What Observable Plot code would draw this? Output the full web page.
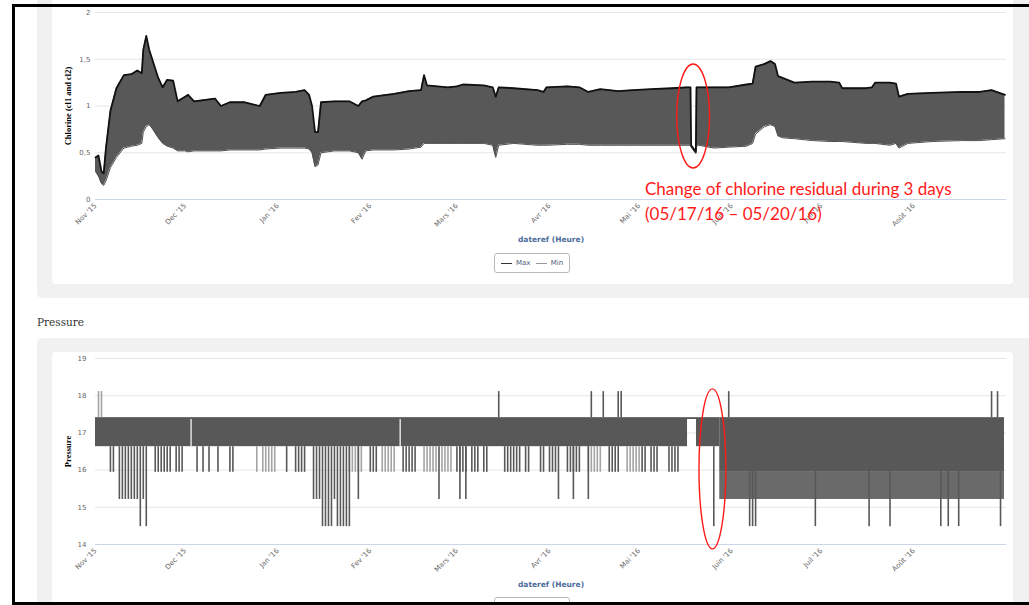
<!DOCTYPE html>
<html>
<head>
<meta charset="utf-8">
<script src="https://cdn.jsdelivr.net/npm/d3@7"></script>
<script src="https://cdn.jsdelivr.net/npm/@observablehq/plot@0.6"></script>
<style>
html,body{margin:0;padding:0;background:#fff;}
#page{position:relative;width:1029px;height:605px;overflow:hidden;background:#fff;font-family:"DejaVu Sans",sans-serif;}
.panel{position:absolute;background:#f1f1f1;border-radius:5px;}
.card{position:absolute;background:#fff;border-radius:4px;}
.chart{position:absolute;left:0;}
.legend{position:absolute;border:1px solid #b9b9b9;border-radius:3px;background:#fff;font:7px "DejaVu Sans",sans-serif;color:#4d5b78;display:flex;align-items:center;justify-content:center;gap:3px;box-sizing:border-box;}
.sw{display:inline-block;width:11px;height:0;border-top:1.5px solid;margin-right:1px;}
.note{position:absolute;left:645px;top:176px;font:17px Lato,"Open Sans",sans-serif;line-height:25px;color:#ff1a1a;white-space:nowrap;}
#heading{position:absolute;left:37px;top:316px;font:10.5px "DejaVu Serif",serif;color:#333;}
#frame{position:absolute;left:12px;top:4px;width:1100px;height:601px;border:3px solid #000;border-right:none;box-sizing:border-box;z-index:10;}
</style>
</head>
<body>
<div id="page">
  <div class="panel" style="left:37px;top:-10px;width:1000px;height:308px"></div>
  <div class="card" style="left:52px;top:-10px;width:961px;height:294px"></div>
  <div class="panel" style="left:37px;top:338px;width:1000px;height:300px"></div>
  <div class="card" style="left:52px;top:352px;width:961px;height:300px"></div>
  <div id="heading">Pressure</div>
  <div id="chl" class="chart" style="top:0"></div>
  <div id="pres" class="chart" style="top:340px"></div>
  <div class="legend" style="left:494px;top:253px;width:76px;height:20px"><span class="sw" style="border-color:#333"></span>Max&nbsp;<span class="sw" style="border-color:#999"></span>Min</div>
  <div class="legend" style="left:494px;top:597px;width:76px;height:20px"></div>
  <div class="note">Change of chlorine residual during 3 days<br>(05/17/16 – 05/20/16)</div>
  <div id="frame"></div>
</div>
<script>
// ---------- shared x axis ----------
const xStart = "2015-11-01";
const xEnd = "2016-09-01";
const monthTicks = ["2015-11-01","2015-12-01","2016-01-01","2016-02-01","2016-03-01","2016-04-01","2016-05-01","2016-06-01","2016-07-01","2016-08-01"];
const monthLabels = ["Nov '15","Dec '15","Jan '16","Fev '16","Mars '16","Avr '16","Mai '16","Juin '16","Juil '16","Août '16"];
const xTitle = "dateref (Heure)";

// ---------- chlorine (envelope of the daily Max / Min cycles) ----------
const chlTitle = "Chlorine (cl1 and cl2)";
const chlYTicks = [0, 0.5, 1, 1.5, 2];
const chlYLabels = ["0", "0,5", "1", "1,5", "2"];
const chlDates = [
  "2015-11-01","2015-11-02","2015-11-03","2015-11-03T18:00Z","2015-11-04T12:00Z","2015-11-06","2015-11-08","2015-11-10T12:00Z","2015-11-13","2015-11-15",
  "2015-11-16T12:00Z","2015-11-17","2015-11-18","2015-11-19","2015-11-20","2015-11-22","2015-11-23T12:00Z","2015-11-25","2015-11-27","2015-11-28T12:00Z",
  "2015-12-01","2015-12-02","2015-12-04","2015-12-11","2015-12-13","2015-12-16","2015-12-21","2015-12-26","2015-12-28",
  "2016-01-02","2016-01-07","2016-01-10","2016-01-11T12:00Z","2016-01-12T12:00Z","2016-01-13T12:00Z","2016-01-14T12:00Z","2016-01-15T12:00Z","2016-01-20","2016-01-25","2016-01-28","2016-01-29T06:00Z","2016-01-30T12:00Z",
  "2016-02-02","2016-02-09","2016-02-14","2016-02-18","2016-02-19","2016-02-20","2016-02-27",
  "2016-03-01","2016-03-03","2016-03-10","2016-03-13","2016-03-14","2016-03-15","2016-03-20","2016-03-28","2016-03-30","2016-03-31",
  "2016-04-07","2016-04-11","2016-04-14","2016-04-18","2016-04-24","2016-04-29",
  "2016-05-05","2016-05-12","2016-05-17","2016-05-18T05:00Z","2016-05-18T10:00Z","2016-05-20","2016-05-20T05:00Z","2016-05-21","2016-05-26","2016-05-31",
  "2016-06-06","2016-06-08","2016-06-09","2016-06-12","2016-06-14","2016-06-15T12:00Z","2016-06-16T12:00Z","2016-06-18","2016-06-22","2016-06-28",
  "2016-07-04","2016-07-07","2016-07-08","2016-07-16","2016-07-18","2016-07-19","2016-07-24","2016-07-26","2016-07-27","2016-07-30",
  "2016-08-07","2016-08-17","2016-08-23","2016-08-27","2016-08-31T12:00Z"
];
const chlMax = [
  0.45,0.47,0.30,0.28,0.55,0.95,1.19,1.33,1.34,1.38,
  1.35,1.60,1.75,1.60,1.50,1.30,1.20,1.28,1.27,1.05,
  1.10,1.12,1.05,1.08,1.00,1.04,1.04,1.00,1.12,
  1.14,1.15,1.17,1.12,1.00,0.72,0.72,1.04,1.05,1.05,1.00,1.05,1.06,
  1.10,1.13,1.16,1.17,1.33,1.22,1.20,
  1.21,1.23,1.22,1.20,1.10,1.20,1.19,1.17,1.15,1.20,
  1.21,1.20,1.15,1.18,1.16,1.17,
  1.18,1.19,1.20,1.20,0.58,0.51,1.20,1.20,1.20,1.20,
  1.23,1.24,1.42,1.45,1.48,1.45,1.32,1.30,1.25,1.26,
  1.26,1.25,1.19,1.19,1.20,1.25,1.25,1.24,1.10,1.13,
  1.14,1.15,1.15,1.17,1.12
];
const chlMin = [
  0.30,0.25,0.17,0.15,0.20,0.34,0.45,0.55,0.57,0.58,
  0.60,0.72,0.78,0.80,0.76,0.66,0.60,0.57,0.55,0.52,
  0.52,0.51,0.52,0.52,0.52,0.53,0.53,0.53,0.54,
  0.55,0.55,0.55,0.54,0.50,0.35,0.37,0.50,0.52,0.52,0.50,0.43,0.52,
  0.53,0.53,0.54,0.56,0.60,0.60,0.60,
  0.60,0.60,0.60,0.58,0.45,0.58,0.60,0.58,0.58,0.58,
  0.59,0.59,0.58,0.58,0.58,0.58,
  0.58,0.58,0.58,0.58,0.56,0.49,0.57,0.58,0.55,0.56,
  0.57,0.60,0.70,0.78,0.80,0.78,0.68,0.66,0.65,0.63,
  0.62,0.62,0.62,0.60,0.60,0.60,0.58,0.60,0.55,0.60,
  0.62,0.63,0.63,0.64,0.65
];

// ---------- pressure ----------
const presTitle = "Pressure";
const presYTicks = [14, 15, 16, 17, 18, 19];
const presLevels = {l144: 14.48, l152: 15.21, l159: 15.94, bandLow: 16.63, bandHigh: 17.41, l181: 18.11};
// continuous bands of the dense hourly signal
const bandStart = ["2015-11-01","2016-05-17T05:00Z","2016-05-20T05:00Z","2016-05-28","2016-05-28"];
const bandEnd   = ["2016-05-17T05:00Z","2016-05-20T05:00Z","2016-05-28","2016-08-31T08:00Z","2016-08-31T08:00Z"];
const bandLow   = [16.63, 17.36, 16.63, 15.94, 15.21];
const bandHigh  = [17.41, 17.41, 17.41, 17.41, 15.94];
const bandTone  = ["dark","dark","dark","dark","mid"];
// drops to ~15.9
const drop159Dark = [
  "2015-11-06","2015-11-07","2015-11-21","2015-11-22","2015-11-23","2015-11-24","2015-11-25","2015-11-26","2015-11-28","2015-11-29","2015-11-30",
  "2015-12-05","2015-12-07","2015-12-09","2015-12-12","2015-12-16","2015-12-17",
  "2016-01-04","2016-01-07","2016-01-08","2016-01-09","2016-01-10",
  "2016-02-01","2016-02-02","2016-02-03","2016-02-12","2016-02-13","2016-02-14","2016-02-15","2016-02-16",
  "2016-03-01","2016-03-02","2016-03-03","2016-03-04","2016-03-06","2016-03-07","2016-03-08","2016-03-10","2016-03-11",
  "2016-03-17","2016-03-18","2016-03-19","2016-03-20","2016-03-21","2016-03-22","2016-03-24","2016-03-25",
  "2016-03-29","2016-03-30","2016-04-01","2016-04-02","2016-04-03",
  "2016-04-07","2016-04-08","2016-04-09","2016-04-10","2016-04-11",
  "2016-04-21","2016-04-22","2016-04-23","2016-04-24",
  "2016-05-02","2016-05-03","2016-05-05","2016-05-06","2016-05-07",
  "2016-05-11","2016-05-12","2016-05-13","2016-05-14"
];
const drop159Light = [
  "2015-12-25","2015-12-27","2015-12-28","2015-12-29","2015-12-30","2015-12-31",
  "2016-01-25","2016-01-26","2016-01-27","2016-01-28","2016-01-29",
  "2016-02-05","2016-02-06","2016-02-07","2016-02-08","2016-02-09",
  "2016-02-19","2016-02-20","2016-02-21","2016-02-22","2016-02-23","2016-02-25","2016-02-26","2016-02-27","2016-02-28",
  "2016-04-14","2016-04-15","2016-04-16","2016-04-17","2016-04-18",
  "2016-04-27","2016-04-28","2016-04-29","2016-04-30","2016-05-01"
];
// drops to ~15.2
const drop152 = [
  "2015-11-09","2015-11-10","2015-11-11","2015-11-12","2015-11-13","2015-11-14","2015-11-15","2015-11-17",
  "2016-01-13","2016-01-14","2016-01-15","2016-01-20","2016-01-28",
  "2016-02-24","2016-03-02","2016-03-04","2016-04-04","2016-04-09","2016-04-14"
];
// drops to ~14.5
const drop145 = [
  "2015-11-16","2015-11-18",
  "2016-01-16","2016-01-17","2016-01-18","2016-01-19","2016-01-21","2016-01-22","2016-01-23","2016-01-24","2016-01-25",
  "2016-05-26","2016-06-07","2016-06-08","2016-06-09","2016-06-29","2016-07-17","2016-07-24",
  "2016-08-10","2016-08-12T12:00Z","2016-08-16","2016-08-30"
];
// rises to ~18.1
const rise181Light = ["2015-11-02","2015-11-03"];
const rise181Dark = ["2016-03-15","2016-04-15","2016-04-19","2016-04-24","2016-04-25","2016-05-31","2016-08-27","2016-08-29"];
// visible holes in the band
const presGaps = ["2015-12-03","2016-02-11"];

// ---------- annotations ----------
const chlEllipse = {date: "2016-05-19T06:00Z", value: 0.888, rxDays: 5.5, ryValue: 0.556};
const presEllipse = {date: "2016-05-25T17:00Z", value: 16.02, rxDays: 4.5, ryValue: 2.15};

// ---------- helpers ----------
const parse = s => new Date(s.length === 10 ? s + "T00:00:00Z" : s);
const toneColor = {dark: "#585858", mid: "#6a6a6a", light: "#a4a4a4"};
const xDomain = [parse(xStart), parse(xEnd)];
const xTicks = monthTicks.map(parse);
const monthLabel = d => monthLabels[xTicks.findIndex(t => +t === +d)];

function ellipseMark(a) {
  return function(...args) {
    const s = args.find(v => v && typeof v.x === "function" && typeof v.y === "function");
    const c = parse(a.date);
    const cx = s.x(c), cy = s.y(a.value);
    const rx = Math.abs(s.x(new Date(+c + a.rxDays * 864e5)) - cx);
    const ry = Math.abs(s.y(a.value - a.ryValue) - cy);
    const el = document.createElementNS("http://www.w3.org/2000/svg", "ellipse");
    el.setAttribute("cx", cx); el.setAttribute("cy", cy);
    el.setAttribute("rx", rx); el.setAttribute("ry", ry);
    el.setAttribute("fill", "none"); el.setAttribute("stroke", "#ff1a1a"); el.setAttribute("stroke-width", 1.4);
    return el;
  };
}

const baseStyle = {background: "transparent", color: "#666", fontSize: "7px", fontFamily: "DejaVu Sans, sans-serif", overflow: "visible"};
const xOpts = {type: "utc", domain: xDomain, ticks: xTicks, tickFormat: monthLabel, tickRotate: -45, tickSize: 0, tickPadding: 5, label: null};

// ---------- chlorine chart ----------
const chl = chlDates.map((d, i) => ({date: parse(d), max: chlMax[i], min: chlMin[i]}));
const chlChart = Plot.plot({
  width: 1029, height: 250,
  marginLeft: 95, marginRight: 23, marginTop: 12, marginBottom: 51,
  style: baseStyle,
  x: xOpts,
  y: {domain: [0, 2], ticks: chlYTicks, tickFormat: d => chlYLabels[chlYTicks.indexOf(d)], tickSize: 0, tickPadding: 5, label: null},
  marks: [
    Plot.ruleY(chlYTicks.slice(1), {stroke: "#e6e6e6"}),
    Plot.ruleY([0], {stroke: "#ccd6eb"}),
    Plot.areaY(chl, {x: "date", y1: "min", y2: "max", fill: "#585858"}),
    Plot.line(chl, {x: "date", y: "min", stroke: "#4e4e4e", strokeWidth: 1}),
    Plot.line(chl, {x: "date", y: "max", stroke: "#111", strokeWidth: 1.8}),
    Plot.text([chlTitle], {frameAnchor: "left", dx: -27, rotate: -90, textAnchor: "middle", fontSize: 8.5, fontWeight: "bold", fontFamily: "Liberation Serif, serif", fill: "#000"}),
    Plot.text([xTitle], {frameAnchor: "bottom", dy: 40, lineAnchor: "middle", fontSize: 7.5, fontWeight: "bold", fill: "#4d6d9a"}),
    ellipseMark(chlEllipse)
  ]
});
document.getElementById("chl").append(chlChart);

// ---------- pressure chart ----------
const bands = bandStart.map((d, i) => ({x1: parse(d), x2: parse(bandEnd[i]), y1: bandLow[i], y2: bandHigh[i], tone: bandTone[i]}));
const spikes = [
  ...drop159Light.map(d => ({date: parse(d), from: presLevels.bandLow, to: presLevels.l159, tone: "light"})),
  ...drop159Dark.map(d => ({date: parse(d), from: presLevels.bandLow, to: presLevels.l159, tone: "dark"})),
  ...drop152.map(d => ({date: parse(d), from: presLevels.bandLow, to: presLevels.l152, tone: "dark"})),
  ...drop145.map(d => ({date: parse(d), from: presLevels.bandLow, to: presLevels.l144, tone: "dark"})),
  ...rise181Light.map(d => ({date: parse(d), from: presLevels.bandHigh, to: presLevels.l181, tone: "light"})),
  ...rise181Dark.map(d => ({date: parse(d), from: presLevels.bandHigh, to: presLevels.l181, tone: "dark"}))
];
const presChart = Plot.plot({
  width: 1029, height: 265,
  marginLeft: 95, marginRight: 23, marginTop: 18, marginBottom: 61,
  style: baseStyle,
  x: xOpts,
  y: {domain: [14, 19], ticks: presYTicks, tickFormat: d => String(d), tickSize: 0, tickPadding: 9, label: null},
  marks: [
    Plot.ruleY(presYTicks.slice(1), {stroke: "#e6e6e6"}),
    Plot.ruleY([14], {stroke: "#ccd6eb"}),
    Plot.rect(bands, {x1: "x1", x2: "x2", y1: "y1", y2: "y2", fill: d => toneColor[d.tone]}),
    Plot.ruleX(presGaps.map(parse), {y1: presLevels.bandLow, y2: presLevels.bandHigh - 0.05, stroke: "#fff", strokeWidth: 1.2}),
    Plot.ruleX(spikes, {x: "date", y1: "from", y2: "to", stroke: d => toneColor[d.tone], strokeWidth: 1.6}),
    Plot.text([presTitle], {frameAnchor: "left", dx: -27, rotate: -90, textAnchor: "middle", fontSize: 8.5, fontWeight: "bold", fontFamily: "Liberation Serif, serif", fill: "#000"}),
    Plot.text([xTitle], {frameAnchor: "bottom", dy: 40, lineAnchor: "middle", fontSize: 7.5, fontWeight: "bold", fill: "#4d6d9a"}),
    ellipseMark(presEllipse)
  ]
});
document.getElementById("pres").append(presChart);
</script>
</body>
</html>
